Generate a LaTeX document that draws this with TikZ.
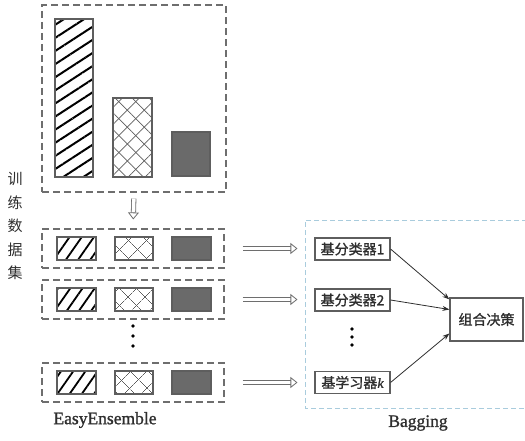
\documentclass[tikz,border=0pt]{standalone}
\usepackage{fontspec}
\setmainfont{Liberation Serif}
\newfontfamily\cjk{Noto Sans CJK SC}
\newfontfamily\cjkb[FakeBold=1.2]{Noto Sans CJK SC}
\newfontfamily\serifb[FakeBold=1.2]{Liberation Serif}
\usepackage{tikz}
\usetikzlibrary{arrows.meta,patterns.meta,calc}

\definecolor{framegray}{HTML}{6E6E6E}
\definecolor{boxgray}{HTML}{5E5E5E}
\definecolor{fillgray}{HTML}{6A6A6A}
\definecolor{bagblue}{HTML}{A9CCDD}
\definecolor{textgray}{HTML}{2E2E2E}

\tikzset{
  dashbox/.style={draw=framegray, line width=1.1pt, dash pattern=on 7pt off 4pt, inner sep=0pt},
  bar/.style={draw=boxgray, line width=1.1pt, inner sep=0pt},
  hatchtall/.style={pattern={Lines[angle=33,distance=11pt,line width=2pt]}, pattern color=black},
  hatchsmall/.style={pattern={Lines[angle=55,distance=10pt,line width=1.8pt]}, pattern color=black},
  crossbar/.style={pattern={Lines[angle=45,distance=#1,line width=.7pt]}, pattern color=boxgray,
    postaction={pattern={Lines[angle=-45,distance=#1,line width=.7pt]}, pattern color=boxgray}},
  solidbar/.style={fill=fillgray},
  clf/.style={draw=boxgray, line width=1.1pt, minimum width=75pt, minimum height=22pt, inner sep=0pt,
    font=\cjkb\fontsize{14}{16}\selectfont, text=textgray},
  hollow/.style={draw=framegray, line width=.8pt, double=white, double distance=3.5pt,
    -{Triangle[open, length=7pt, width=11pt]}},
  vote/.style={draw=textgray, line width=.8pt, -{Stealth[length=7pt,width=5pt]}},
  bagframe/.style={draw=bagblue, line width=.9pt, dash pattern=on 5pt off 3pt}
}

\begin{document}
\begin{tikzpicture}[x=1pt, y=-1pt]
    \useasboundingbox (0,0) rectangle (525,441);

    % whole training set
    \node[dashbox, minimum width=184pt, minimum height=187pt] (top) at (134,98.5) {};
    \node[bar, hatchtall, minimum width=38pt, minimum height=158pt] (tallA) at (74,98) {};
    \node[bar, crossbar=12pt, minimum width=39pt, minimum height=79pt] (tallB) at (132.5,137.5) {};
    \node[bar, solidbar, minimum width=38pt, minimum height=44pt] (tallC) at (191,154) {};

    % balanced subsets
    \foreach \n/\y in {1/248.5, 2/299.5, 3/382.5} {
        \node[dashbox, minimum width=182pt, minimum height=39pt] (row\n) at (133,\y) {};
        \node[bar, hatchsmall, minimum width=39pt, minimum height=23pt] (ha\n) at (76.5,\y) {};
        \node[bar, crossbar=13pt, minimum width=38pt, minimum height=23pt] (cr\n) at (134,\y) {};
        \node[bar, solidbar, minimum width=39pt, minimum height=23pt] (gr\n) at (191.5,\y) {};
    }
    \draw[hollow, shorten <=6pt, shorten >=9pt] (top.south) -- (row1.north);
    \foreach \y in {326,336,346} \fill[black] (133,\y) circle (1.9pt);

    % bagging part
    \draw[bagframe] (527,220) -- (305,220) -- (305,408) -- (527,408);
    \node[clf] (c1) at (352.5,249) {基分类器1};
    \node[clf] (c2) at (352.5,300) {基分类器2};
    \node[clf] (c3) at (352.5,382.5) {基学习器{\serifb\itshape k}};
    \foreach \y in {329,337,345} \fill[black] (352,\y) circle (1.9pt);
    \node[draw=boxgray, line width=1.2pt, minimum width=73pt, minimum height=43pt, inner sep=0pt,
        font=\cjkb\fontsize{14}{16}\selectfont, text=textgray] (dec) at (486.5,319.5) {组合决策};

    \foreach \n in {1,2,3}
        \draw[hollow, shorten <=18pt, shorten >=17pt] (row\n.east) -- (row\n.east -| c\n.west);
    \draw[vote] (c1.east) -- ([yshift=-2pt]dec.north west);
    \draw[vote] (c2.east) -- ([yshift=10pt]dec.west);
    \draw[vote] (c3.east) -- ([yshift=-14pt]dec.west);

    % labels
    \node[font=\cjk\fontsize{15}{23.5}\selectfont, align=center, text=textgray] (side) at (15,226) {训\\练\\数\\据\\集};
    \node[font=\serifb\fontsize{17.5}{20}\selectfont, text=textgray] (easy) at (105,420) {EasyEnsemble};
    \node[font=\serifb\fontsize{17.5}{20}\selectfont, text=textgray] (bag) at (418,423) {Bagging};
\end{tikzpicture}
\end{document}
